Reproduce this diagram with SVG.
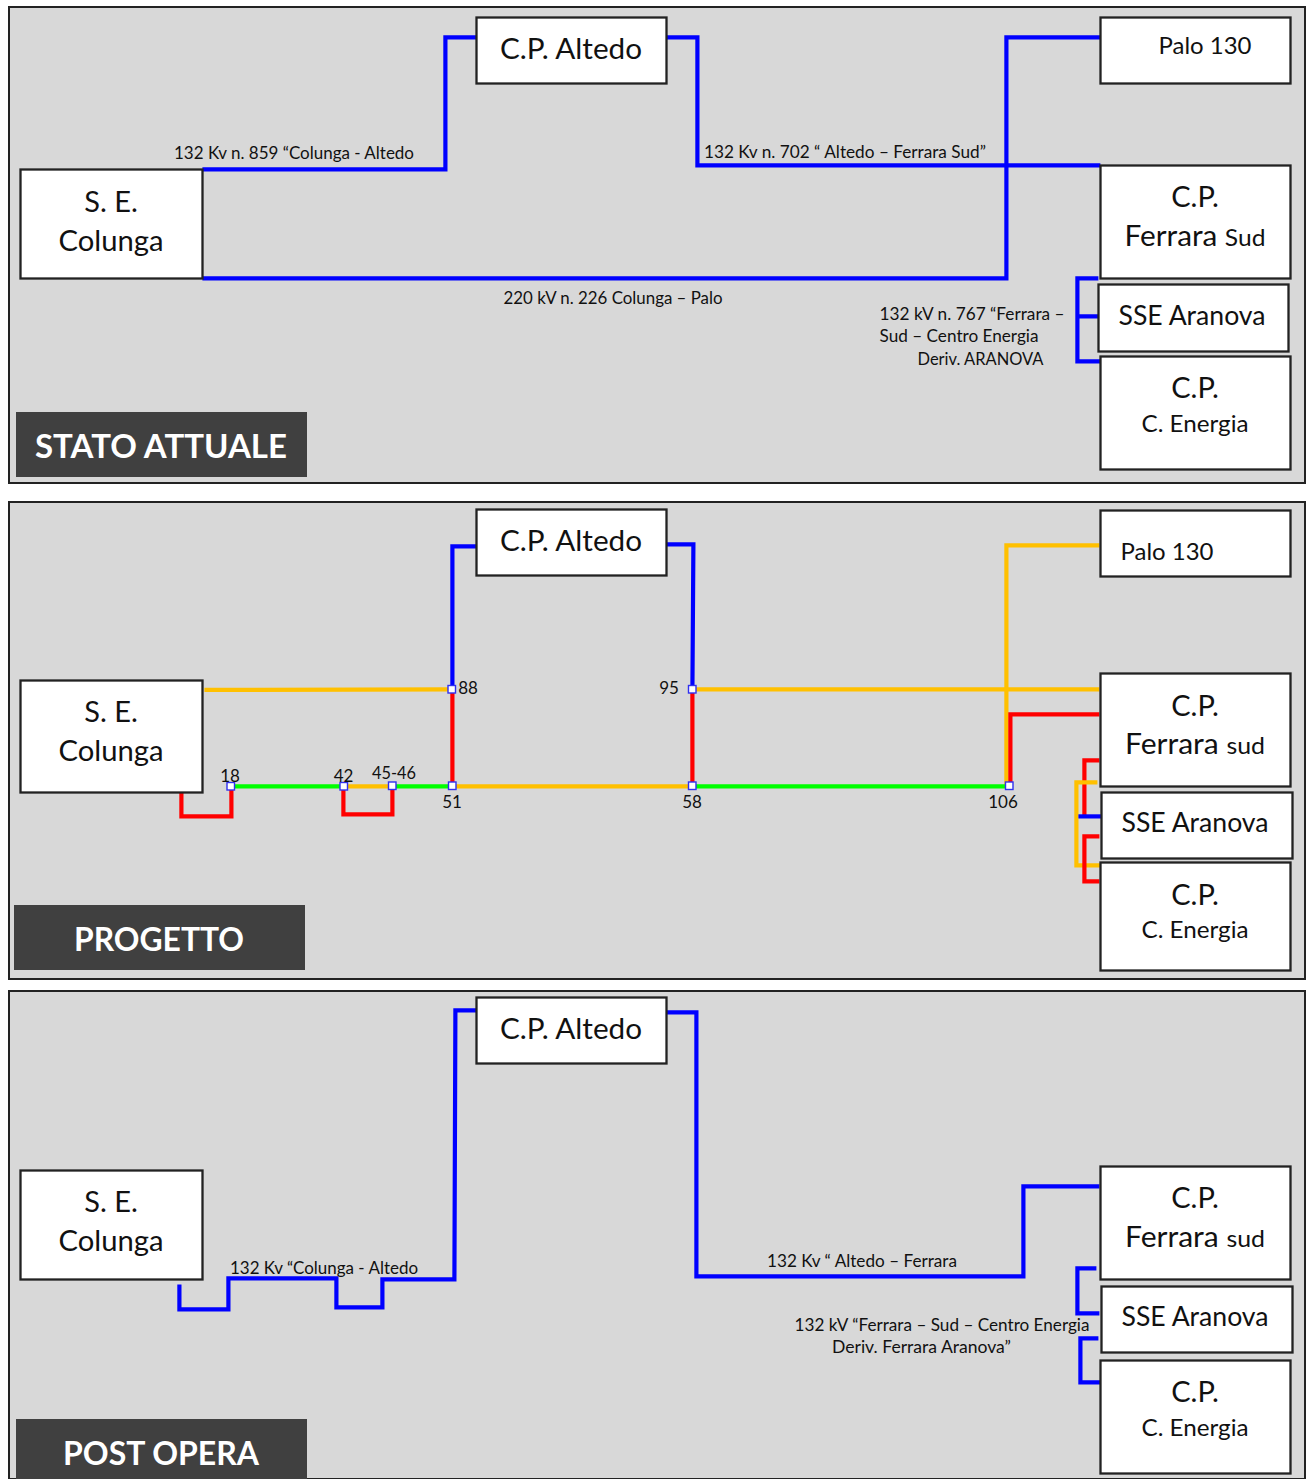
<svg xmlns="http://www.w3.org/2000/svg" width="1309" height="1479" viewBox="0 0 1309 1479">
<style>
text{font-family:"Lato","Open Sans","Liberation Sans",sans-serif;fill:#111;transform:translateY(.6px)}
.panel{fill:#d8d8d8;stroke:#222;stroke-width:2}
.box{fill:#fff;stroke:#222;stroke-width:2.3;transform:translate(.5px,.5px)}
.n{font-size:29px;text-anchor:middle}
.s{font-size:17px}
.m{font-size:17px;text-anchor:middle}
.title{font-size:33px;font-weight:700;fill:#fff;text-anchor:middle}
.tb{fill:#404040}
.w{fill:none;stroke-width:4.2;stroke-linejoin:miter}
.b{stroke:#0000ff}.r{stroke:#ff0000}.y{stroke:#ffc000}.g{stroke:#00ff00}
.j{fill:#fff;stroke:#3030f0;stroke-width:1.4}
</style>
<rect class="panel" x="9" y="7" width="1296" height="476"/>
<rect class="panel" x="9" y="502" width="1296" height="477"/>
<rect class="panel" x="9" y="991" width="1296" height="488"/>
<g id="connectors" transform="translate(.4 .4)">
<path class="w b" d="M202 169H445V37H476"/>
<path class="w b" d="M666 37H697V165H1100"/>
<path class="w b" d="M202 278H1006V37H1100"/>
<path class="w b" d="M1098 278H1077V361H1100M1077 316H1100"/>

<path class="w b" d="M476 546H452V689"/>
<path class="w b" d="M666 544H693L692 689"/>
<path class="w y" d="M204 689.500L452 689"/>
<path class="w y" d="M692 689H1099"/>
<path class="w y" d="M1099 545H1006V786"/>
<path class="w r" d="M452 689V786"/>
<path class="w r" d="M692 689V786"/>
<path class="w r" d="M1099 714H1010V786"/>
<path class="w g" d="M231 786H344"/>
<path class="w y" d="M344 786H392"/>
<path class="w g" d="M392 786H452"/>
<path class="w y" d="M452 786H692"/>
<path class="w g" d="M692 786H1009"/>
<path class="w r" d="M181 792V816H231V786"/>
<path class="w r" d="M343 786V814H392V786"/>
<path class="w r" d="M1099 760H1084V816"/>
<path class="w y" d="M1097 782H1076V865H1100"/>
<path class="w b" d="M1078 816H1101"/>
<path class="w r" d="M1099 836H1084V881H1099"/>

<path class="w b" d="M179 1284V1309H228V1278H336V1307H382V1279H454L455 1010H476"/>
<path class="w b" d="M666 1012H696V1276H1023V1186H1099"/>
<path class="w b" d="M1096 1268H1077V1313H1099"/>
<path class="w b" d="M1098 1338H1080V1382H1100"/>
</g>
<g id="junctions">
<rect class="j" x="448" y="685.500" width="7.500" height="7.500"/>
<rect class="j" x="688.500" y="685.500" width="7.500" height="7.500"/>
<rect class="j" x="227" y="782.500" width="7.500" height="7.500"/>
<rect class="j" x="340" y="782.500" width="7.500" height="7.500"/>
<rect class="j" x="388.500" y="782" width="7.500" height="7.500"/>
<rect class="j" x="448.500" y="782" width="7.500" height="7.500"/>
<rect class="j" x="688.500" y="782" width="7.500" height="7.500"/>
<rect class="j" x="1005.500" y="782" width="7.500" height="7.500"/>
</g>
<g id="labels-connectors">
<text class="s" x="174" y="158" textLength="240" lengthAdjust="spacingAndGlyphs">132 Kv n. 859 “Colunga - Altedo</text>
<text class="s" x="704" y="157" textLength="282" lengthAdjust="spacingAndGlyphs">132 Kv n. 702 “ Altedo – Ferrara Sud”</text>
<text class="s" x="503.500" y="303" textLength="219" lengthAdjust="spacingAndGlyphs">220 kV n. 226 Colunga – Palo</text>
<text class="s" x="879.500" y="319" textLength="185" lengthAdjust="spacingAndGlyphs">132 kV n. 767 “Ferrara –</text>
<text class="s" x="879.500" y="341" textLength="159" lengthAdjust="spacingAndGlyphs">Sud – Centro Energia</text>
<text class="s" x="917.500" y="364" textLength="126" lengthAdjust="spacingAndGlyphs">Deriv. ARANOVA</text>
<text class="m" x="468" y="693">88</text>
<text class="m" x="669" y="693">95</text>
<text class="m" x="230" y="781">18</text>
<text class="m" x="343.500" y="781">42</text>
<text class="m" x="394" y="778" textLength="44" lengthAdjust="spacingAndGlyphs">45-46</text>
<text class="m" x="452" y="807">51</text>
<text class="m" x="692" y="807">58</text>
<text class="m" x="1003" y="807">106</text>
<text class="s" x="230" y="1273" textLength="188" lengthAdjust="spacingAndGlyphs">132 Kv “Colunga - Altedo</text>
<text class="s" x="767" y="1266" textLength="190" lengthAdjust="spacingAndGlyphs">132 Kv “ Altedo – Ferrara</text>
<text class="s" x="794.500" y="1330" textLength="295" lengthAdjust="spacingAndGlyphs">132 kV “Ferrara – Sud – Centro Energia</text>
<text class="s" x="832" y="1352" textLength="179" lengthAdjust="spacingAndGlyphs">Deriv. Ferrara Aranova”</text>
</g>

<g id="a-colunga"><rect class="box" x="20" y="169" width="182" height="109"/><text class="n" x="111" y="211">S. E.</text><text class="n" x="111" y="250" textLength="105" lengthAdjust="spacingAndGlyphs">Colunga</text></g>
<g id="a-altedo"><rect class="box" x="476" y="17" width="190" height="66"/><text class="n" x="571" y="58" textLength="142" lengthAdjust="spacingAndGlyphs">C.P. Altedo</text></g>
<g id="a-palo"><rect class="box" x="1100" y="17" width="190" height="66"/><text class="n" x="1205" y="53" style="font-size:23px" textLength="93" lengthAdjust="spacingAndGlyphs">Palo 130</text></g>
<g id="a-ferrara"><rect class="box" x="1100" y="165" width="190" height="113"/><text class="n" x="1195" y="206">C.P.</text><text class="n" x="1195" y="245" textLength="141" lengthAdjust="spacingAndGlyphs">Ferrara <tspan style="font-size:24px">Sud</tspan></text></g>
<g id="a-aranova"><rect class="box" x="1098" y="284" width="190" height="67"/><text class="n" x="1192" y="324" style="font-size:26px" textLength="147" lengthAdjust="spacingAndGlyphs">SSE Aranova</text></g>
<g id="a-energia"><rect class="box" x="1100" y="356" width="190" height="113"/><text class="n" x="1195" y="397">C.P.</text><text class="n" x="1195" y="431" style="font-size:24px" textLength="107" lengthAdjust="spacingAndGlyphs">C. Energia</text></g>
<g id="a-title"><rect class="tb" x="16" y="412" width="291" height="65"/><text class="title" x="161" y="457" textLength="252" lengthAdjust="spacingAndGlyphs">STATO ATTUALE</text></g>

<g id="p-colunga"><rect class="box" x="20" y="680" width="182" height="112"/><text class="n" x="111" y="721">S. E.</text><text class="n" x="111" y="760" textLength="105" lengthAdjust="spacingAndGlyphs">Colunga</text></g>
<g id="p-altedo"><rect class="box" x="476" y="509" width="190" height="66"/><text class="n" x="571" y="550" textLength="142" lengthAdjust="spacingAndGlyphs">C.P. Altedo</text></g>
<g id="p-palo"><rect class="box" x="1100" y="510" width="190" height="66"/><text class="n" x="1167" y="559" style="font-size:23px" textLength="93" lengthAdjust="spacingAndGlyphs">Palo 130</text></g>
<g id="p-ferrara"><rect class="box" x="1100" y="673" width="190" height="113"/><text class="n" x="1195" y="715">C.P.</text><text class="n" x="1195" y="753" textLength="140" lengthAdjust="spacingAndGlyphs">Ferrara <tspan style="font-size:24px">sud</tspan></text></g>
<g id="p-aranova"><rect class="box" x="1101" y="792" width="191" height="66"/><text class="n" x="1195" y="831" style="font-size:26px" textLength="147" lengthAdjust="spacingAndGlyphs">SSE Aranova</text></g>
<g id="p-energia"><rect class="box" x="1100" y="862" width="190" height="108"/><text class="n" x="1195" y="904">C.P.</text><text class="n" x="1195" y="937" style="font-size:24px" textLength="107" lengthAdjust="spacingAndGlyphs">C. Energia</text></g>
<g id="p-title"><rect class="tb" x="14" y="905" width="291" height="65"/><text class="title" x="159" y="950" textLength="170" lengthAdjust="spacingAndGlyphs">PROGETTO</text></g>

<g id="o-colunga"><rect class="box" x="20" y="1170" width="182" height="109"/><text class="n" x="111" y="1211">S. E.</text><text class="n" x="111" y="1250" textLength="105" lengthAdjust="spacingAndGlyphs">Colunga</text></g>
<g id="o-altedo"><rect class="box" x="476" y="997" width="190" height="66"/><text class="n" x="571" y="1038" textLength="142" lengthAdjust="spacingAndGlyphs">C.P. Altedo</text></g>
<g id="o-ferrara"><rect class="box" x="1100" y="1166" width="190" height="113"/><text class="n" x="1195" y="1207">C.P.</text><text class="n" x="1195" y="1246" textLength="140" lengthAdjust="spacingAndGlyphs">Ferrara <tspan style="font-size:24px">sud</tspan></text></g>
<g id="o-aranova"><rect class="box" x="1101" y="1286" width="191" height="66"/><text class="n" x="1195" y="1325" style="font-size:26px" textLength="147" lengthAdjust="spacingAndGlyphs">SSE Aranova</text></g>
<g id="o-energia"><rect class="box" x="1100" y="1360" width="190" height="113"/><text class="n" x="1195" y="1401">C.P.</text><text class="n" x="1195" y="1435" style="font-size:24px" textLength="107" lengthAdjust="spacingAndGlyphs">C. Energia</text></g>
<g id="o-title"><rect class="tb" x="16" y="1419" width="291" height="60"/><text class="title" x="161" y="1464" textLength="196" lengthAdjust="spacingAndGlyphs">POST OPERA</text></g>
</svg>
